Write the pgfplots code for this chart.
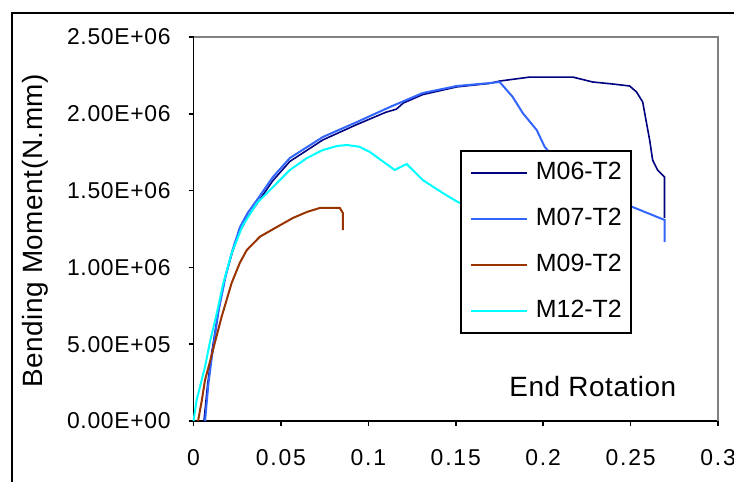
\documentclass[border=0pt]{standalone}
\usepackage{pgfplots}
\pgfplotsset{compat=1.18}
\usepackage{fontspec}
\setmainfont{Liberation Sans}
\newfontfamily\xtickfont[LetterSpace=8]{Liberation Sans}
\newfontfamily\ytickfont[LetterSpace=3]{Liberation Sans}
\newfontfamily\titlefont[LetterSpace=2]{Liberation Sans}
\definecolor{cNavy}{RGB}{0,0,128}
\definecolor{cBlue}{RGB}{51,102,255}
\definecolor{cBrown}{RGB}{153,51,0}
\definecolor{cCyan}{RGB}{0,255,255}
\begin{document}
\begin{tikzpicture}[x=0.5bp,y=0.5bp]
\useasboundingbox (0,0) rectangle (734,482);
\fill[white] (0,0) rectangle (734,482);
\draw[line width=1bp] (12,-20) -- (12,469) -- (760,469);
\begin{axis}[
  at={(96.75bp,30.5bp)}, anchor=south west,
  scale only axis, width=262.25bp, height=192bp,
  xmin=0, xmax=0.3, ymin=0, ymax=2.5e6,
  clip=false,
  axis x line*=bottom, axis y line*=left,
  axis line style={black, line width=0.8bp, -},
  tick align=outside, major tick length=2.5bp,
  tick style={black, line width=0.8bp},
  xtick={0,0.05,0.1,0.15,0.2,0.25,0.3},
  xticklabels={0,0.05,0.1,0.15,0.2,0.25,0.3},
  ytick={0,500000,1000000,1500000,2000000,2500000},
  yticklabels={0.00E+00,5.00E+05,1.00E+06,1.50E+06,2.00E+06,2.50E+06},
  scaled ticks=false,
  xticklabel style={font=\xtickfont\fontsize{11.5}{13}\selectfont, inner sep=0pt, anchor=north, yshift=-11.75bp},
  yticklabel style={font=\ytickfont\fontsize{11.5}{13}\selectfont, inner sep=0pt, anchor=east, xshift=-8.75bp},
  legend style={at={(0.508,0.7057)}, anchor=north west, draw=black, line width=1bp, fill=white,
    inner xsep=4.5bp, inner ysep=5.5bp, row sep=12bp, column sep=4bp,
    font=\fontsize{12.5}{14}\selectfont,
    nodes={inner sep=0pt, text height=9bp, text depth=2bp}},
  legend cell align=left,
  legend image code/.code={\draw[#1] (0bp,0bp) -- (28bp,0bp);},
]
\addplot[cNavy, line width=0.8bp] coordinates {
(0.0060,0) (0.0080,230000) (0.0105,450000) (0.0140,700000) (0.0180,930000)
(0.0222,1100000) (0.0266,1235000) (0.0310,1330000) (0.0363,1415000) (0.0454,1565000)
(0.0551,1690000) (0.0740,1830000) (0.0934,1930000) (0.1100,2010000)
(0.1160,2030000) (0.1200,2070000) (0.1311,2125000) (0.1506,2175000)
(0.1694,2198000) (0.1751,2213000) (0.1923,2239000) (0.2169,2239000)
(0.2283,2207000) (0.2397,2194000) (0.2494,2181000) (0.2534,2142000)
(0.2569,2077000) (0.2591,1940000) (0.2609,1829000) (0.2626,1699000)
(0.2654,1634000) (0.2694,1588000) (0.2694,1322000)
};
\addlegendentry{M06-T2}
\addplot[cBlue, line width=1bp] coordinates {
(0.0066,0) (0.0085,240000) (0.0110,460000) (0.0145,730000) (0.0185,950000)
(0.0225,1120000) (0.0266,1263000) (0.0310,1355000) (0.0363,1439000) (0.0454,1588000)
(0.0551,1712000) (0.0740,1849000) (0.0934,1946000) (0.1123,2044000)
(0.1311,2135000) (0.1506,2181000) (0.1694,2200000) (0.1751,2207000)
(0.1826,2109000) (0.1883,2005000) (0.1963,1894000) (0.2009,1784000)
(0.2150,1600000) (0.2300,1490000) (0.2483,1406000) (0.2694,1309000)
(0.2694,1165000)
};
\addlegendentry{M07-T2}
\addplot[cBrown, line width=1bp] coordinates {
(0.0026,0) (0.0047,130000) (0.0066,267000) (0.0095,390000) (0.0123,514000)
(0.0161,679000) (0.0218,898000) (0.0265,1030000) (0.0305,1113000)
(0.0380,1200000) (0.0477,1263000) (0.0569,1322000) (0.0649,1361000)
(0.0723,1387000) (0.0837,1387000) (0.0854,1354000) (0.0854,1243000)
};
\addlegendentry{M09-T2}
\addplot[cCyan, line width=1bp] coordinates {
(0.0000,0) (0.0018,137000) (0.0066,353000) (0.0094,514000) (0.0133,700000)
(0.0170,896000) (0.0218,1092000) (0.0280,1270000) (0.0363,1419000)
(0.0454,1523000) (0.0551,1634000) (0.0649,1712000) (0.0740,1764000)
(0.0820,1790000) (0.0877,1797000) (0.0950,1785000) (0.1009,1751000)
(0.1151,1634000) (0.1219,1673000) (0.1311,1569000) (0.1426,1484000)
(0.1511,1426000) (0.1600,1380000)
};
\addlegendentry{M12-T2}
\draw[black!50, line width=1bp] (rel axis cs:0,1) -- (rel axis cs:1,1) -- (rel axis cs:1,0);
\end{axis}
\node[rotate=90, inner sep=0pt, font=\titlefont\fontsize{14}{16}\selectfont] at (35,251) {Bending Moment(N.mm)};
\node[anchor=base west, inner sep=0pt, font=\titlefont\fontsize{14}{16}\selectfont] at (509,85) {End Rotation};
\end{tikzpicture}
\end{document}
